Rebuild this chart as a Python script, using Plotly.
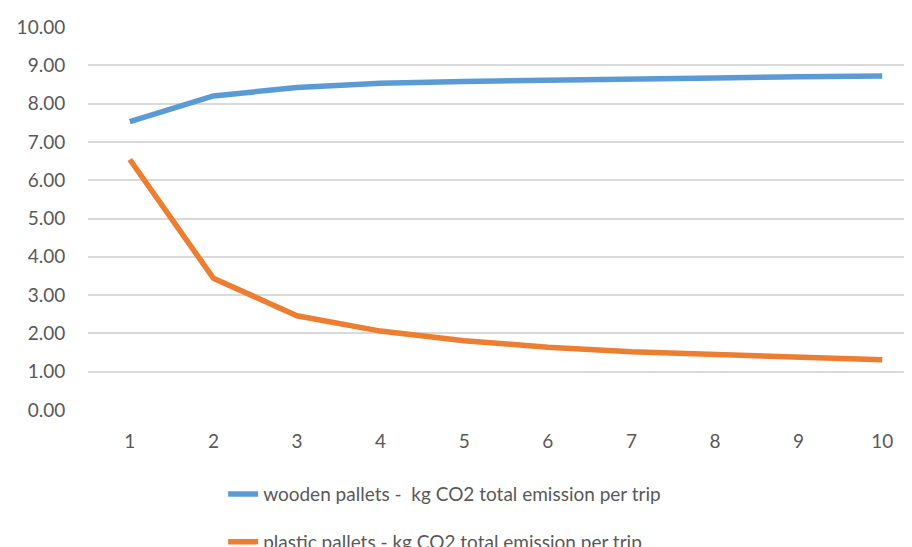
import plotly.graph_objects as go

trips = [1, 2, 3, 4, 5, 6, 7, 8, 9, 10]
wooden = [7.53, 8.20, 8.42, 8.53, 8.58, 8.62, 8.65, 8.67, 8.70, 8.72]
plastic = [6.54, 3.44, 2.46, 2.06, 1.81, 1.64, 1.52, 1.44, 1.37, 1.31]
wooden_name = "wooden pallets -  kg CO2 total emission per trip"
plastic_name = "plastic pallets - kg CO2 total emission per trip"
y_ticks = [0, 1, 2, 3, 4, 5, 6, 7, 8, 9, 10]

FONT = "Lato"
TXT = "#595959"

fig = go.Figure()
fig.add_trace(go.Scatter(x=trips, y=wooden, mode="lines", name=wooden_name,
                         legendgroup="a",
                         line=dict(color="#5B9BD5", width=5.5)))
fig.add_trace(go.Scatter(x=trips, y=plastic, mode="lines", name=plastic_name,
                         legendgroup="b",
                         line=dict(color="#ED7D31", width=5.5)))

fig.update_layout(
    width=912, height=547,
    margin=dict(l=80, r=8, t=19, b=145, autoexpand=False),
    paper_bgcolor="white", plot_bgcolor="white",
    font=dict(family=FONT, color=TXT, size=19),
    showlegend=True,
    legend=dict(orientation="v", x=0.164, xanchor="left", y=-0.17, yanchor="top",
                tracegroupgap=20, font=dict(size=19, color=TXT),
                bgcolor="rgba(0,0,0,0)"),
)
fig.update_xaxes(range=[0.5, 10.356], tickvals=trips, ticktext=[str(t) for t in trips],
                 showgrid=False, zeroline=False, showline=False,
                 ticks="outside", ticklen=14, tickcolor="rgba(0,0,0,0)",
                 tickfont=dict(size=19, color=TXT, family=FONT))
fig.update_yaxes(range=[0, 10], tickvals=y_ticks,
                 ticktext=[f"{v:.2f}" for v in y_ticks],
                 showgrid=True, gridcolor="#D9D9D9", gridwidth=1.5,
                 zeroline=False, showline=False,
                 ticks="outside", ticklen=18, tickcolor="rgba(0,0,0,0)",
                 tickfont=dict(size=19, color=TXT, family=FONT))

fig.write_html("out.html")
